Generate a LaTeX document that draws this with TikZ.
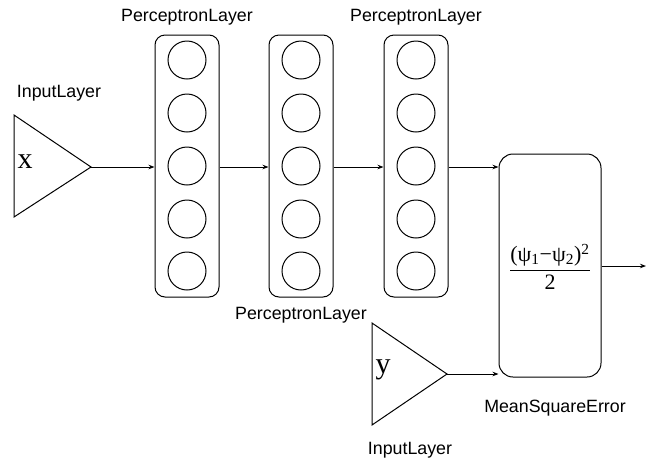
\documentclass[tikz,border=0pt]{standalone}
\usepackage{fontspec}
\setsansfont{Liberation Sans}
\newfontfamily\serifx{Liberation Serif}
\usetikzlibrary{arrows.meta}
\begin{document}
\begin{tikzpicture}[x=1pt,y=-1pt,
  line width=1pt,
  lbl/.style={font=\sffamily\fontsize{17.8}{20}\selectfont, inner sep=0pt},
  layerbox/.style={draw, rounded corners=10pt, minimum width=64pt, minimum height=262pt, inner sep=0pt},
  neuron/.style={draw, circle, minimum size=38pt, inner sep=0pt},
  msebox/.style={draw, rounded corners=14pt, minimum width=102pt, minimum height=223pt, inner sep=0pt},
  conn/.style={-{Stealth[length=6pt,width=4.5pt]}, line width=0.9pt}
]
\useasboundingbox (0,0) rectangle (654,459);

% input triangles
\draw (14,115) -- (91,167) -- (14,217) -- cycle;
\coordinate (tipx) at (91,167);
\node[font=\serifx\fontsize{30}{32}\selectfont, inner sep=0pt] (xlab) at (25,162) {x};
\draw (372,323) -- (447,374) -- (372,425) -- cycle;
\coordinate (tipy) at (447,374);
\node[font=\serifx\fontsize{30}{32}\selectfont, inner sep=0pt] (ylab) at (383,370) {y};

% layers
\node[layerbox] (L1) at (187,166) {};
\node[layerbox] (L2) at (301,166) {};
\node[layerbox] (L3) at (416,166) {};
\foreach \l/\cx in {1/187,2/301,3/416}{
  \foreach \i/\cy in {1/60,2/113,3/166,4/219,5/271}{
    \node[neuron] (n\l\i) at (\cx,\cy) {};
  }
}

% MSE
\node[msebox] (mse) at (550,265.5) {};
\node[inner sep=0pt] (frac) at (550,267) {\fontsize{22}{26}\selectfont$\displaystyle\frac{\hbox{\serifx(ψ\textsubscript{1}−ψ\textsubscript{2})\textsuperscript{2}}}{\hbox{\serifx 2}}$};
\coordinate (out) at (646,266);

% connectors
\draw[conn] (tipx) -- (L1.west |- tipx);
\draw[conn] (L1.east |- tipx) -- (L2.west |- tipx);
\draw[conn] (L2.east |- tipx) -- (L3.west |- tipx);
\draw[conn] (L3.east |- tipx) -- (mse.west |- tipx);
\draw[conn] (tipy) -- (mse.west |- tipy);
\draw[conn] (mse.east |- out) -- (out);

% labels
\node[lbl] (t1) at (59,93) {InputLayer};
\node[lbl] (t2) at (187,17) {PerceptronLayer};
\node[lbl] (t3) at (416,17) {PerceptronLayer};
\node[lbl] (t4) at (301,315) {PerceptronLayer};
\node[lbl] (t5) at (555,408) {MeanSquareError};
\node[lbl] (t6) at (410,450) {InputLayer};
\end{tikzpicture}
\end{document}
